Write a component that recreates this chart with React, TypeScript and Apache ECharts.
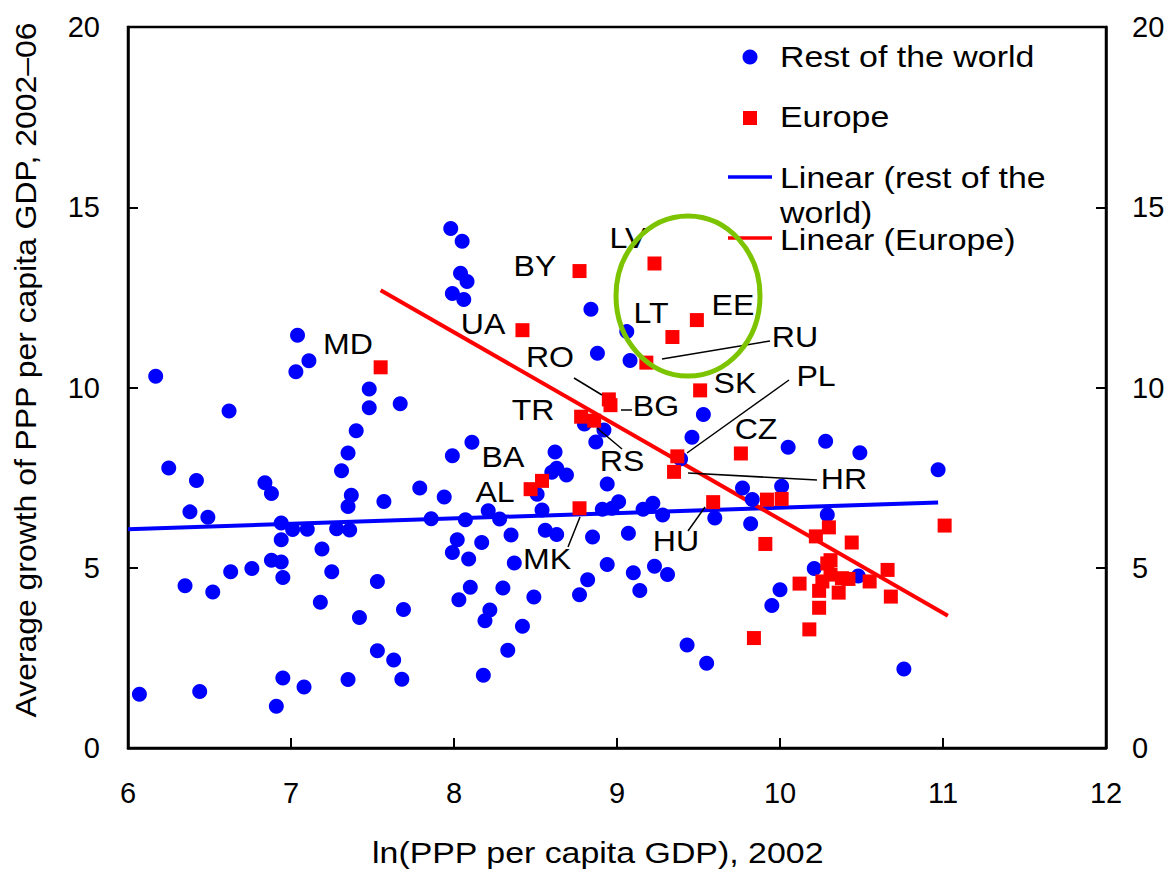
import React, { useEffect, useRef } from "react";
import * as echarts from "echarts";

// ---------- data ----------
const restOfWorld: [number, number][] = [
  [6.07, 1.49], [6.17, 10.31], [6.25, 7.77], [6.35, 4.5], [6.38, 6.55], [6.42, 7.42], [6.44, 1.57],
  [6.49, 6.4], [6.52, 4.33], [6.62, 9.35], [6.63, 4.89], [6.76, 4.98], [6.84, 7.36], [6.88, 7.06],
  [6.88, 5.21], [6.91, 1.16], [6.94, 6.24], [6.94, 5.78], [6.94, 5.16], [6.95, 4.73], [6.95, 1.94],
  [7.01, 6.06], [7.03, 10.44], [7.04, 11.45], [7.08, 1.69], [7.1, 6.07], [7.11, 10.74], [7.18, 4.04],
  [7.19, 5.52], [7.25, 4.89], [7.28, 6.08], [7.31, 7.69], [7.35, 8.18], [7.35, 6.7], [7.35, 1.9],
  [7.36, 6.05], [7.37, 7.01], [7.4, 8.8], [7.42, 3.62], [7.48, 9.96], [7.48, 9.44], [7.53, 4.62],
  [7.53, 2.7], [7.57, 6.84], [7.63, 2.44], [7.67, 9.55], [7.68, 1.91], [7.69, 3.84],
  [7.79, 7.21], [7.86, 6.36], [7.94, 6.96], [7.98, 14.41], [7.99, 12.61], [7.99, 8.11], [7.99, 5.42],
  [8.02, 5.78], [8.03, 4.11], [8.04, 13.17], [8.05, 14.06], [8.06, 12.44], [8.07, 6.33], [8.08, 12.94],
  [8.09, 5.24], [8.1, 4.46], [8.11, 8.48], [8.17, 5.7], [8.18, 2.02], [8.19, 3.53], [8.21, 6.58],
  [8.22, 3.83], [8.28, 6.35], [8.3, 4.44], [8.33, 2.71], [8.35, 5.91], [8.37, 5.13], [8.42, 3.38],
  [8.49, 4.19], [8.51, 7.04], [8.54, 6.6], [8.56, 6.04], [8.6, 7.65], [8.62, 8.21], [8.63, 7.76],
  [8.63, 5.92], [8.69, 7.57], [8.77, 4.25], [8.8, 8.99], [8.82, 4.67], [8.84, 12.17], [8.85, 5.85],
  [8.87, 8.49], [8.88, 10.95], [8.91, 6.62], [8.92, 8.82], [8.94, 7.32], [8.94, 5.09], [8.97, 6.65],
  [9.01, 6.83], [9.06, 11.55], [9.07, 5.96], [9.08, 10.75], [9.1, 4.86], [9.14, 4.37], [9.16, 6.62],
  [9.22, 6.79], [9.23, 5.04], [9.28, 6.46], [9.31, 4.81],
  [9.39, 8.02], [9.43, 2.86], [9.46, 8.62], [9.53, 9.25], [9.55, 2.35], [9.6, 6.38], [9.77, 7.21],
  [9.82, 6.22], [9.83, 6.89], [9.95, 3.95], [10.0, 4.39], [10.01, 7.26], [10.05, 8.34], [10.21, 4.98],
  [10.28, 8.51], [10.29, 6.47], [10.48, 4.77], [10.49, 8.19], [10.76, 2.19], [10.97, 7.72],
];

const europeCountries = ["MD", "UA", "BY", "LV", "LT", "EE", "RU", "RO", "BG", "TR", "RS", "SK", "PL", "CZ", "HR", "BA", "AL", "MK", "HU"];
const europeCountryX = [7.55, 8.42, 8.77, 9.23, 9.34, 9.49, 9.18, 8.95, 8.96, 8.78, 8.86, 9.51, 9.37, 9.76, 9.35, 8.54, 8.47, 8.77, 9.59];
const europeCountryY = [10.56, 11.59, 13.23, 13.44, 11.4, 11.87, 10.69, 9.67, 9.51, 9.19, 9.08, 9.92, 8.09, 8.17, 7.66, 7.41, 7.18, 6.65, 6.82];

const europeOther: [number, number][] = [
  [9.92, 6.89], [10.01, 6.91], [9.91, 5.66], [10.22, 5.87], [10.3, 6.12], [10.44, 5.7], [11.01, 6.17],
  [10.31, 5.21], [10.29, 5.12], [10.31, 4.81], [10.38, 4.71], [10.42, 4.69], [10.26, 4.62], [10.55, 4.62],
  [10.66, 4.94], [10.12, 4.56], [10.24, 4.36], [10.36, 4.31], [10.68, 4.2], [10.24, 3.89], [10.18, 3.29],
  [9.84, 3.05],
];

const trendRest: [number, number][] = [[6.0, 6.07], [10.97, 6.81]];
const trendEurope: [number, number][] = [[7.55, 12.7], [11.03, 3.67]];

// ---------- annotation layout (pixels) ----------
const labelCenters: Record<string, [number, number]> = {
  MD: [348, 344], BY: [535, 266], LV: [628, 238], UA: [483, 324], LT: [651, 313], EE: [733, 305],
  RU: [795, 337], RO: [550, 357], BG: [656, 406], TR: [533, 410], SK: [735, 383], PL: [816, 376],
  CZ: [756, 429], BA: [503, 457], RS: [622, 461], AL: [495, 492], HR: [844, 479], MK: [547, 559],
  HU: [676, 541],
};
const leaderLines: [number, number, number, number][] = [
  [662, 359, 770, 341], // RU
  [574, 378, 602, 395], // RO
  [621, 410, 632, 410], // BG
  [597, 428, 622, 449], // RS
  [687, 453, 789, 380], // PL
  [688, 473, 817, 480], // HR
  [580, 517, 568, 547], // MK
  [705, 507, 688, 531], // HU
];

const FONT = '"Liberation Sans", Arial, Helvetica, sans-serif';

export default function App() {
  const ref = useRef<HTMLDivElement>(null);
  useEffect(() => {
    if (!ref.current) return;
    const chart = echarts.init(ref.current, undefined, { renderer: "svg" });
    const europeData = [
      ...europeCountries.map((c, i) => ({ name: c, value: [europeCountryX[i], europeCountryY[i]] })),
      ...europeOther.map((p) => ({ value: p })),
    ];
    const axisLine = { show: true, lineStyle: { color: "#000", width: 2.5 } };
    const labelStyle = { color: "#000", fontSize: 29, fontFamily: FONT };

    const graphics: any[] = [];
    Object.keys(labelCenters).forEach((k) => {
      const [x, y] = labelCenters[k];
      graphics.push({
        type: "text", x, y, scaleX: 1.07, z: 100,
        style: { text: k, fontSize: 30, fontFamily: FONT, fill: "#000", textAlign: "center", textVerticalAlign: "middle" },
      });
    });
    leaderLines.forEach(([x1, y1, x2, y2]) => {
      graphics.push({ type: "line", z: 100, shape: { x1, y1, x2, y2 }, style: { stroke: "#000", lineWidth: 1.5 } });
    });
    // legend
    const legendText = (text: string, y: number) => ({
      type: "text", x: 780, y, scaleX: 1.13, z: 100,
      style: { text, fontSize: 30, fontFamily: FONT, fill: "#000", textAlign: "left", textVerticalAlign: "middle" },
    });
    graphics.push(
      { type: "circle", z: 100, shape: { cx: 750, cy: 57, r: 7.5 }, style: { fill: "#0000FF" } },
      legendText("Rest of the world", 57),
      { type: "rect", z: 100, shape: { x: 743, y: 111, width: 14, height: 14 }, style: { fill: "#FF0000" } },
      legendText("Europe", 117),
      { type: "line", z: 100, shape: { x1: 728, y1: 177, x2: 772, y2: 177 }, style: { stroke: "#0000FF", lineWidth: 3.5 } },
      legendText("Linear (rest of the", 178),
      legendText("world)", 213),
      { type: "line", z: 100, shape: { x1: 728, y1: 238, x2: 772, y2: 238 }, style: { stroke: "#FF0000", lineWidth: 3.5 } },
      legendText("Linear (Europe)", 240),
      // highlight ellipse
      { type: "ellipse", z: 110, shape: { cx: 688, cy: 296, rx: 72, ry: 80 }, style: { fill: "none", stroke: "#7DC400", lineWidth: 5 } },
      // axis titles
      {
        type: "text", x: 372, y: 853, scaleX: 1.13, z: 100,
        style: { text: "ln(PPP per capita GDP), 2002", fontSize: 30, fontFamily: FONT, fill: "#000", textAlign: "left", textVerticalAlign: "middle" },
      },
      {
        type: "text", x: 26, y: 370, rotation: Math.PI / 2, scaleX: 1.1, z: 100,
        style: { text: "Average growth of PPP per capita GDP, 2002–06", fontSize: 29, fontFamily: FONT, fill: "#000", textAlign: "center", textVerticalAlign: "middle" },
      }
    );

    chart.setOption({
      animation: false,
      backgroundColor: "#fff",
      textStyle: { fontFamily: FONT },
      grid: { left: 128, right: 66, top: 27, bottom: 121, show: true, borderColor: "#000", borderWidth: 2.5, backgroundColor: "transparent" },
      xAxis: {
        type: "value", min: 6, max: 12, interval: 1,
        axisLine, axisTick: { show: true, inside: true, length: 10, lineStyle: { color: "#000", width: 2 } },
        axisLabel: { ...labelStyle, margin: 30 },
        splitLine: { show: false },
      },
      yAxis: [
        {
          type: "value", min: 0, max: 20, interval: 5, position: "left",
          axisLine, axisTick: { show: true, inside: true, length: 10, lineStyle: { color: "#000", width: 2 } },
          axisLabel: { ...labelStyle, margin: 28 },
          splitLine: { show: false },
        },
        {
          type: "value", min: 0, max: 20, interval: 5, position: "right",
          axisLine, axisTick: { show: true, inside: true, length: 10, lineStyle: { color: "#000", width: 2 } },
          axisLabel: { ...labelStyle, margin: 26 },
          splitLine: { show: false },
        },
      ],
      series: [
        {
          name: "Linear (rest of the world)", type: "line", data: trendRest, showSymbol: false, symbol: "none",
          lineStyle: { color: "#0000FF", width: 4 }, z: 1, silent: true,
        },
        {
          name: "Linear (Europe)", type: "line", data: trendEurope, showSymbol: false, symbol: "none",
          lineStyle: { color: "#FF0000", width: 4 }, z: 1, silent: true,
        },
        {
          name: "Rest of the world", type: "scatter", data: restOfWorld, symbol: "circle", symbolSize: 15,
          itemStyle: { color: "#0000FF", opacity: 1 }, z: 2,
        },
        {
          name: "Europe", type: "scatter", data: europeData, symbol: "rect", symbolSize: 14,
          itemStyle: { color: "#FF0000", opacity: 1 }, z: 3,
        },
      ],
      graphic: graphics,
    });
    return () => chart.dispose();
  }, []);
  return <div ref={ref} style={{ position: "fixed", left: 0, top: 0, width: 1172, height: 869, background: "#fff" }} />;
}
